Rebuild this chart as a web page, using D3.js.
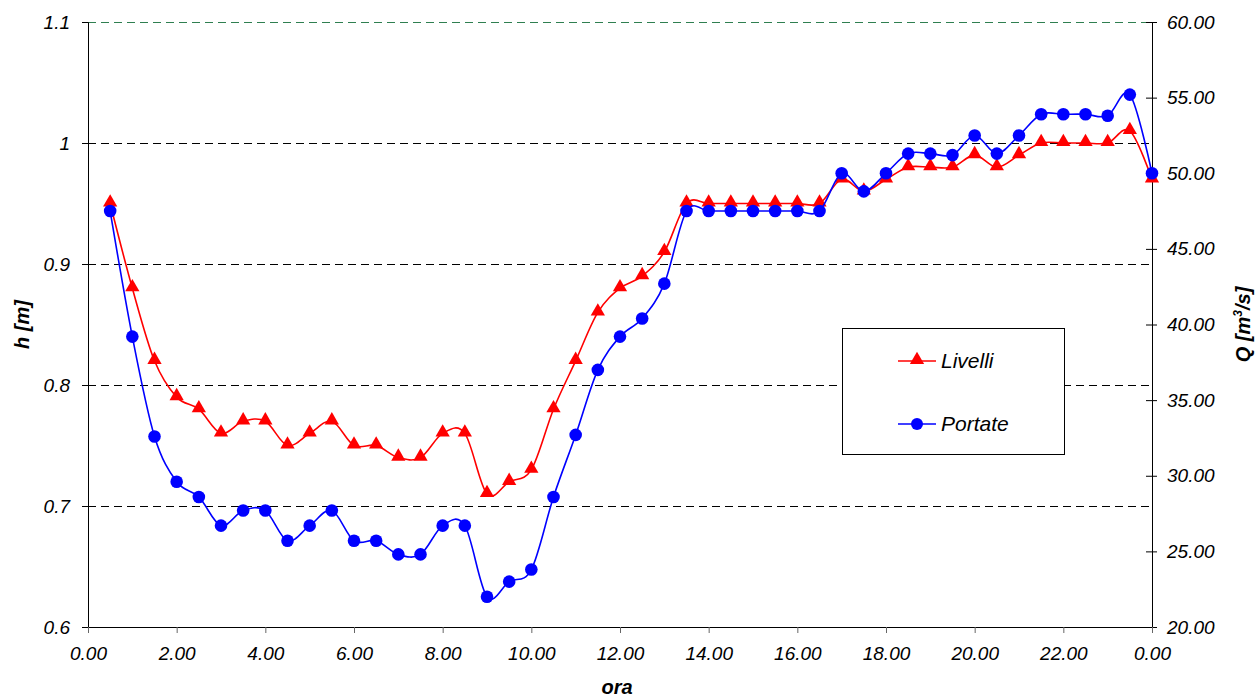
<!DOCTYPE html>
<html>
<head>
<meta charset="utf-8">
<script src="https://cdn.jsdelivr.net/npm/d3@7"></script>
<style>
  body { margin: 0; background: #fff; }
  svg { font-family: "Liberation Sans", Arial, sans-serif; }
</style>
</head>
<body>
<div id="chart"></div>
<script>
// ore (0.5 .. 24)
const ore = [0.5, 1, 1.5, 2, 2.5, 3, 3.5, 4, 4.5, 5, 5.5, 6, 6.5, 7, 7.5, 8, 8.5, 9, 9.5, 10,
  10.5, 11, 11.5, 12, 12.5, 13, 13.5, 14, 14.5, 15, 15.5, 16, 16.5, 17, 17.5, 18, 18.5, 19, 19.5, 20,
  20.5, 21, 21.5, 22, 22.5, 23, 23.5, 24];

// livelli h [m]
const livelli = [0.95, 0.88, 0.82, 0.79, 0.78, 0.76, 0.77, 0.77, 0.75, 0.76, 0.77, 0.75, 0.75, 0.74, 0.74, 0.76, 0.76, 0.71, 0.72, 0.73,
  0.78, 0.82, 0.86, 0.88, 0.89, 0.91, 0.95, 0.95, 0.95, 0.95, 0.95, 0.95, 0.95, 0.97, 0.96, 0.97, 0.98, 0.98, 0.98, 0.99,
  0.98, 0.99, 1.0, 1.0, 1.0, 1.0, 1.01, 0.97];

// portate Q [m3/s]
const portate = [47.5, 39.2, 32.6, 29.6, 28.6, 26.7, 27.7, 27.7, 25.7, 26.7, 27.7, 25.7, 25.7, 24.8, 24.8, 26.7, 26.7, 22.0, 23.0, 23.8,
  28.6, 32.7, 37.0, 39.2, 40.4, 42.7, 47.5, 47.5, 47.5, 47.5, 47.5, 47.5, 47.5, 50.0, 48.8, 50.0, 51.3, 51.3, 51.2, 52.5,
  51.3, 52.5, 53.9, 53.9, 53.9, 53.8, 55.2, 50.0];

const xTicks = [0, 2, 4, 6, 8, 10, 12, 14, 16, 18, 20, 22, 24];
const hTicks = [0.6, 0.7, 0.8, 0.9, 1.0, 1.1];
const qTicks = [20, 25, 30, 35, 40, 45, 50, 55, 60];

const width = 1259;
const height = 697;
const margin = { top: 22, right: 107, bottom: 70, left: 88 };

const svg = d3.select("#chart").append("svg")
  .attr("width", width)
  .attr("height", height);

const x = d3.scaleLinear()
  .domain([0, 24])
  .range([margin.left, width - margin.right]);

const yH = d3.scaleLinear()
  .domain([0.6, 1.1])
  .range([height - margin.bottom, margin.top]);

const yQ = d3.scaleLinear()
  .domain([20, 60])
  .range([height - margin.bottom, margin.top]);

// gridlines
svg.append("g")
  .selectAll("line")
  .data(hTicks.filter(d => d > 0.6))
  .join("line")
  .attr("x1", margin.left)
  .attr("x2", width - margin.right)
  .attr("y1", d => Math.round(yH(d)) + 0.5)
  .attr("y2", d => Math.round(yH(d)) + 0.5)
  .attr("stroke", d => d === 1.1 ? "#2f7f50" : "#000")
  .attr("stroke-width", 1)
  .attr("stroke-dasharray", "8,5");

const tickText = g => g.selectAll("text")
  .style("font-size", "19px")
  .style("font-style", "italic")
  .attr("fill", "#000");

// left axis
svg.append("g")
  .attr("transform", `translate(${margin.left},0)`)
  .call(d3.axisLeft(yH).tickValues(hTicks).tickFormat(d => d === 1 ? "1" : d3.format(".1f")(d)).tickSize(6).tickPadding(12))
  .call(tickText)
  .call(g => g.selectAll("line, path").attr("stroke", "#000"));

// right axis
const right = svg.append("g")
  .attr("transform", `translate(${width - margin.right},0)`)
  .call(d3.axisRight(yQ).tickValues(qTicks).tickFormat(d3.format(".2f")).tickSize(5).tickPadding(10))
  .call(tickText)
  .call(g => g.selectAll("line, path").attr("stroke", "#000"));
right.selectAll(".tick line").attr("x1", -6);

// bottom axis
svg.append("g")
  .attr("transform", `translate(0,${height - margin.bottom})`)
  .call(d3.axisBottom(x).tickValues(xTicks).tickFormat(d => d3.format(".2f")(d % 24)).tickSize(6).tickPadding(14))
  .call(tickText)
  .call(g => g.select(".domain").attr("stroke", "#000"))
  .call(g => g.selectAll(".tick line").attr("stroke", "#666"));

// axis titles
const titleStyle = t => t
  .style("font-size", "20px")
  .style("font-weight", "bold")
  .style("font-style", "italic");

svg.append("text")
  .attr("transform", `translate(29,${(margin.top + height - margin.bottom) / 2}) rotate(-90)`)
  .attr("text-anchor", "middle")
  .call(titleStyle)
  .text("h [m]");

const qTitle = svg.append("text")
  .attr("transform", `translate(1250,${(margin.top + height - margin.bottom) / 2}) rotate(-90)`)
  .attr("text-anchor", "middle")
  .call(titleStyle);
qTitle.append("tspan").text("Q [m");
qTitle.append("tspan").attr("dy", -8).style("font-size", "12px").text("3");
qTitle.append("tspan").attr("dy", 8).text("/s]");

svg.append("text")
  .attr("x", 617)
  .attr("y", 694)
  .attr("text-anchor", "middle")
  .call(titleStyle)
  .text("ora");

// series
const curve = d3.curveCatmullRom.alpha(0);

const lineH = d3.line()
  .x((d, i) => x(ore[i]))
  .y(d => yH(d))
  .curve(curve);

const lineQ = d3.line()
  .x((d, i) => x(ore[i]))
  .y(d => yQ(d))
  .curve(curve);

const tri = d3.symbol().type(d3.symbolTriangle).size(88);

svg.append("path")
  .attr("d", lineH(livelli))
  .attr("fill", "none")
  .attr("stroke", "#ff0000")
  .attr("stroke-width", 1.6);

svg.append("g")
  .selectAll("path")
  .data(livelli)
  .join("path")
  .attr("d", tri)
  .attr("transform", (d, i) => `translate(${x(ore[i])},${yH(d) - 1})`)
  .attr("fill", "#ff0000");

svg.append("path")
  .attr("d", lineQ(portate))
  .attr("fill", "none")
  .attr("stroke", "#0000ff")
  .attr("stroke-width", 1.6);

svg.append("g")
  .selectAll("circle")
  .data(portate)
  .join("circle")
  .attr("cx", (d, i) => x(ore[i]))
  .attr("cy", d => yQ(d))
  .attr("r", 6.3)
  .attr("fill", "#0000ff");

// legend
const legend = svg.append("g");
legend.append("rect")
  .attr("x", 842.5)
  .attr("y", 328.5)
  .attr("width", 222)
  .attr("height", 126)
  .attr("fill", "#fff")
  .attr("stroke", "#000");

const items = [
  { name: "Livelli", color: "#ff0000", y: 361, kind: "tri" },
  { name: "Portate", color: "#0000ff", y: 424, kind: "circle" }
];

items.forEach(it => {
  legend.append("line")
    .attr("x1", 898).attr("x2", 936)
    .attr("y1", it.y).attr("y2", it.y)
    .attr("stroke", it.color).attr("stroke-width", 1.6);
  if (it.kind === "tri") {
    legend.append("path").attr("d", tri).attr("transform", `translate(917,${it.y - 1})`).attr("fill", it.color);
  } else {
    legend.append("circle").attr("cx", 917).attr("cy", it.y).attr("r", 6).attr("fill", it.color);
  }
  legend.append("text")
    .attr("x", 941)
    .attr("y", it.y + 7)
    .style("font-size", "21px")
    .style("font-style", "italic")
    .text(it.name);
});
</script>
</body>
</html>
